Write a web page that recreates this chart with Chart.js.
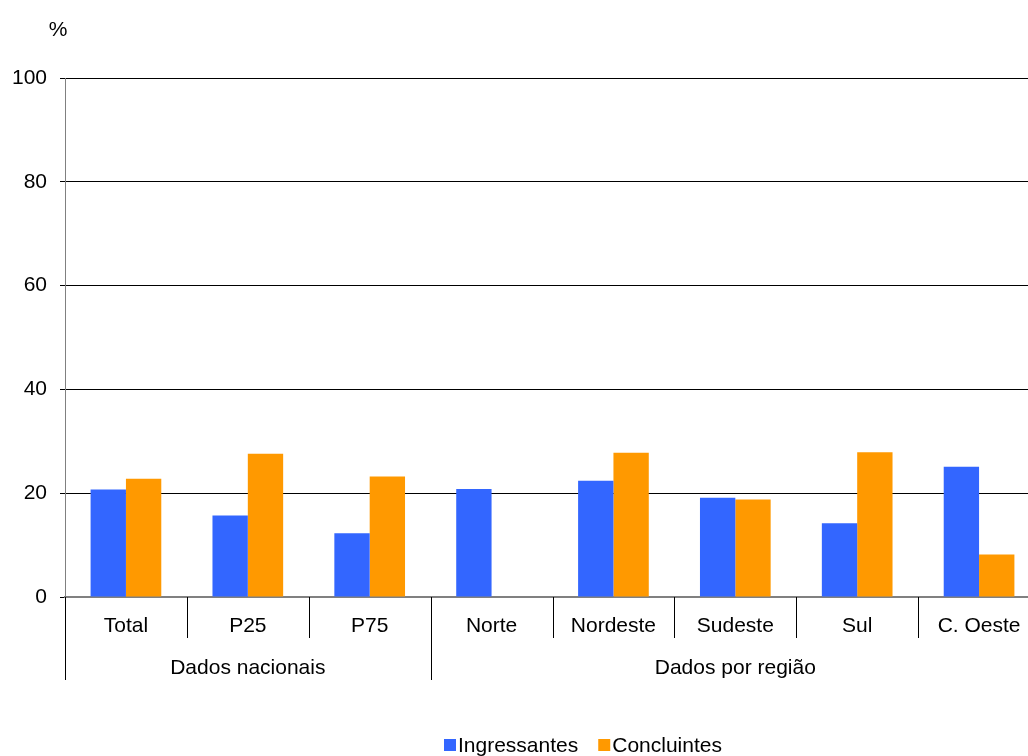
<!DOCTYPE html>
<html>
<head>
<meta charset="utf-8">
<script src="https://cdn.jsdelivr.net/npm/chart.js@4/dist/chart.umd.min.js"></script>
<style>
  html, body { margin: 0; padding: 0; background: #fff; overflow: hidden; }
  #wrap { width: 1040px; height: 756px; }
</style>
</head>
<body>
<div id="wrap"><canvas id="chart" width="1040" height="756"></canvas></div>
<script>
// data
const categories = ["Total", "P25", "P75", "Norte", "Nordeste", "Sudeste", "Sul", "C. Oeste"];
const ingressantes = [20.7, 15.7, 12.3, 20.8, 22.4, 19.1, 14.2, 25.1];
const concluintes = [22.8, 27.6, 23.2, null, 27.8, 18.8, 27.9, 8.2];
const groups = [
  { label: "Dados nacionais", from: 0, to: 2 },
  { label: "Dados por região", from: 3, to: 7 }
];
const yTicks = [0, 20, 40, 60, 80, 100];

const FONT = "Liberation Sans, Arial, sans-serif";

// separators, group labels, % sign and legend
const extras = {
  id: "extras",
  afterDraw(chart) {
    const ctx = chart.ctx;
    const x = chart.scales.x;
    const area = chart.chartArea;
    const bottom = area.bottom;
    const edge = (i) => {
      if (i <= 0) return area.left;
      return (x.getPixelForValue(i - 1) + x.getPixelForValue(i)) / 2;
    };
    ctx.save();
    ctx.strokeStyle = "#000";
    ctx.lineWidth = 1;
    for (let i = 0; i < categories.length; i++) {
      const isGroup = groups.some(g => g.from === i);
      const px = Math.round(edge(i)) + 0.5;
      ctx.beginPath();
      ctx.moveTo(px, bottom);
      ctx.lineTo(px, bottom + (isGroup ? 83 : 41));
      ctx.stroke();
    }
    ctx.fillStyle = "#000";
    ctx.font = "21px " + FONT;
    ctx.textAlign = "center";
    ctx.textBaseline = "middle";
    groups.forEach(g => {
      const left = edge(g.from);
      const right = g.to + 1 >= categories.length ? area.right : edge(g.to + 1);
      ctx.fillText(g.label, (left + right) / 2, bottom + 71);
    });
    ctx.fillText("%", 58, 30);

    // legend
    ctx.textAlign = "left";
    let lx = 444;
    chart.data.datasets.forEach(ds => {
      ctx.fillStyle = ds.backgroundColor;
      ctx.fillRect(lx, 739, 12, 12);
      ctx.fillStyle = "#000";
      ctx.fillText(ds.label, lx + 14, 746);
      lx += 14 + ctx.measureText(ds.label).width + 20;
    });
    ctx.restore();
  }
};

new Chart(document.getElementById("chart"), {
  type: "bar",
  data: {
    labels: categories,
    datasets: [
      { label: "Ingressantes", data: ingressantes, backgroundColor: "#3366FF", categoryPercentage: 0.58, barPercentage: 1.0 },
      { label: "Concluintes", data: concluintes, backgroundColor: "#FF9900", categoryPercentage: 0.58, barPercentage: 1.0 }
    ]
  },
  options: {
    responsive: false,
    animation: false,
    layout: { padding: { top: 78, left: 0, right: 0, bottom: 0 } },
    plugins: {
      legend: { display: false },
      tooltip: { enabled: false }
    },
    scales: {
      x: {
        grid: { display: false },
        border: { display: true, color: "#808080", width: 2 },
        ticks: { color: "#000", font: { family: FONT, size: 21 }, padding: 9, maxRotation: 0, autoSkip: false },
        afterFit(scale) { scale.height = 159; }
      },
      y: {
        min: 0,
        max: 100,
        afterBuildTicks(scale) { scale.ticks = yTicks.map(v => ({ value: v })); },
        grid: { color: "#000", lineWidth: 1, tickLength: 5, drawTicks: true },
        border: { display: true, color: "#808080", width: 1 },
        ticks: { color: "#000", font: { family: FONT, size: 21 }, padding: 13 },
        afterFit(scale) { scale.width = 65; }
      }
    }
  },
  plugins: [extras]
});
</script>
</body>
</html>
